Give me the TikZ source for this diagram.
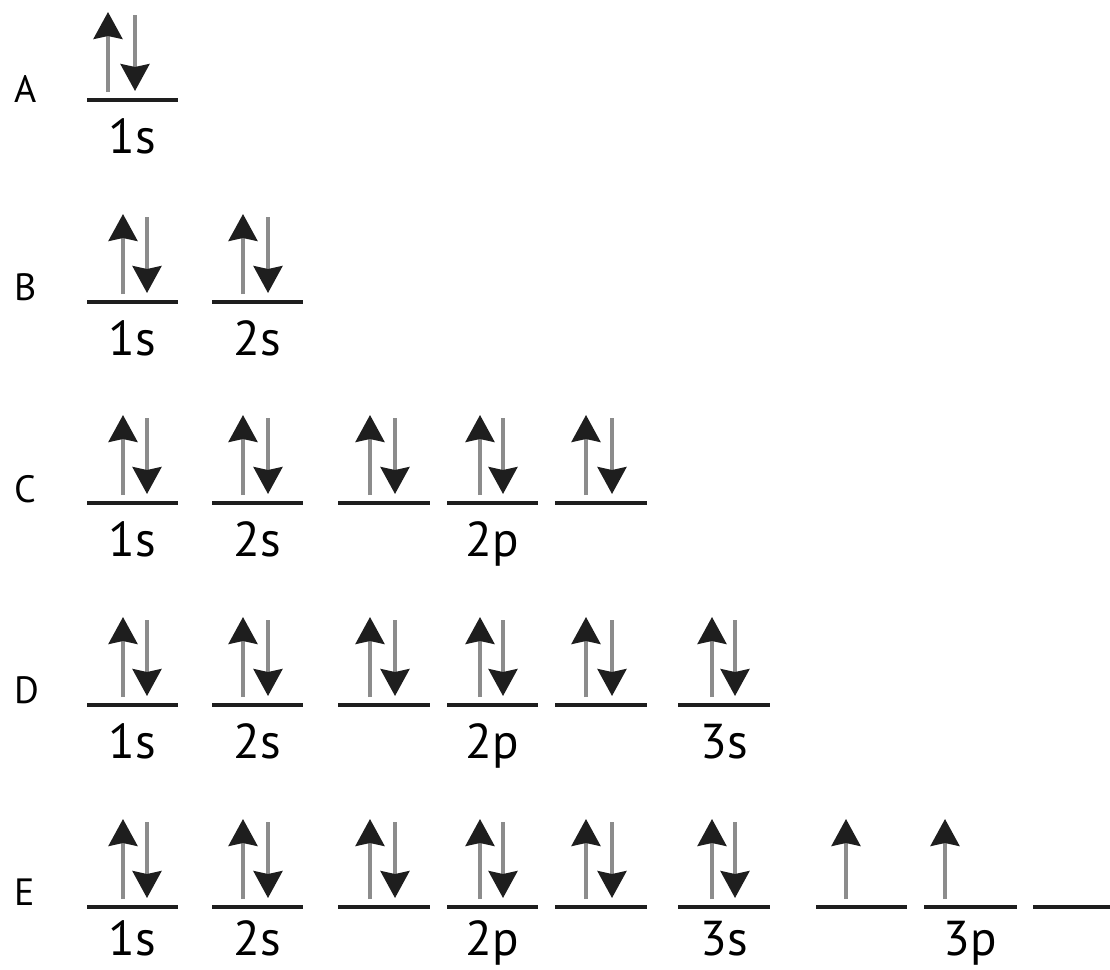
\documentclass[tikz,border=0pt]{standalone}
\usepackage{fontspec}
\setmainfont{PT Sans}
\usetikzlibrary{arrows.meta}
\definecolor{shaft}{HTML}{8C8C8C}
\definecolor{ink}{HTML}{1E1E1E}
\begin{document}
\begin{tikzpicture}[x=1pt,y=-1pt,
  levelline/.style={draw=ink,line width=4.5pt},
  spin/.style={draw=shaft,line width=3.5pt,-{Stealth[length=27pt,width=29pt,inset=3pt,color=ink]}},
  rowlabel/.style={anchor=base west,inner sep=0pt,font=\fontsize{38}{44}\selectfont},
  sublabel/.style={anchor=base,inner sep=0pt,font=\fontsize{49}{56}\selectfont}]
\useasboundingbox[fill=white] (0,0) rectangle (1110,969);
% helpers
\newcommand\mylvl[3]{\draw[levelline] (#1,#3) -- (#2,#3);}
\newcommand\myup[2]{\draw[spin] (#1,#2-8) -- (#1,#2-88);}
\newcommand\mydown[2]{\draw[spin] (#1,#2-85) -- (#1,#2-9);}
\newcommand\mypair[3]{\myup{#1}{#3}\mydown{#2}{#3}}
% ---- Row A ----
\node[rowlabel] (la) at (14,102) {A};
\mylvl{87}{178}{100}
\mypair{108}{135}{100}
\node[sublabel] (a1s) at (132.5,153) {1s};
% ---- Row B ----
\node[rowlabel] (lb) at (14,300) {B};
\foreach \L in {302}{
  \mylvl{87}{178}{\L}\mypair{123}{147}{\L}
  \mylvl{212}{303}{\L}\mypair{243}{268}{\L}
}
\node[sublabel] (b1s) at (132.5,355) {1s};
\node[sublabel] (b2s) at (257.5,355) {2s};
% ---- Row C ----
\node[rowlabel] (lc) at (14,502) {C};
\foreach \L in {503}{
  \mylvl{87}{178}{\L}\mypair{123}{147}{\L}
  \mylvl{212}{303}{\L}\mypair{243}{268}{\L}
  \mylvl{338}{430}{\L}\mypair{370}{395}{\L}
  \mylvl{447}{538}{\L}\mypair{480}{503}{\L}
  \mylvl{555}{647}{\L}\mypair{586}{612}{\L}
}
\node[sublabel] (c1s) at (132.5,556) {1s};
\node[sublabel] (c2s) at (257.5,556) {2s};
\node[sublabel] (c2p) at (492.5,556) {2p};
% ---- Row D ----
\node[rowlabel] (ld) at (14,703) {D};
\foreach \L in {705}{
  \mylvl{87}{178}{\L}\mypair{123}{147}{\L}
  \mylvl{212}{303}{\L}\mypair{243}{268}{\L}
  \mylvl{338}{430}{\L}\mypair{370}{395}{\L}
  \mylvl{447}{538}{\L}\mypair{480}{503}{\L}
  \mylvl{555}{647}{\L}\mypair{586}{612}{\L}
  \mylvl{678}{770}{\L}\mypair{712}{735}{\L}
}
\node[sublabel] (d1s) at (132.5,758) {1s};
\node[sublabel] (d2s) at (257.5,758) {2s};
\node[sublabel] (d2p) at (492.5,758) {2p};
\node[sublabel] (d3s) at (724,758) {3s};
% ---- Row E ----
\node[rowlabel] (le) at (14,905) {E};
\foreach \L in {907}{
  \mylvl{87}{178}{\L}\mypair{123}{147}{\L}
  \mylvl{212}{303}{\L}\mypair{243}{268}{\L}
  \mylvl{338}{430}{\L}\mypair{370}{395}{\L}
  \mylvl{447}{538}{\L}\mypair{480}{503}{\L}
  \mylvl{555}{647}{\L}\mypair{586}{612}{\L}
  \mylvl{678}{770}{\L}\mypair{712}{735}{\L}
  \mylvl{816}{907}{\L}\myup{846}{\L}
  \mylvl{924}{1017}{\L}\myup{945}{\L}
  \mylvl{1033}{1110}{\L}
}
\node[sublabel] (e1s) at (132.5,955) {1s};
\node[sublabel] (e2s) at (257.5,955) {2s};
\node[sublabel] (e2p) at (492.5,955) {2p};
\node[sublabel] (e3s) at (724,955) {3s};
\node[sublabel] (e3p) at (970.5,955) {3p};
\end{tikzpicture}
\end{document}
